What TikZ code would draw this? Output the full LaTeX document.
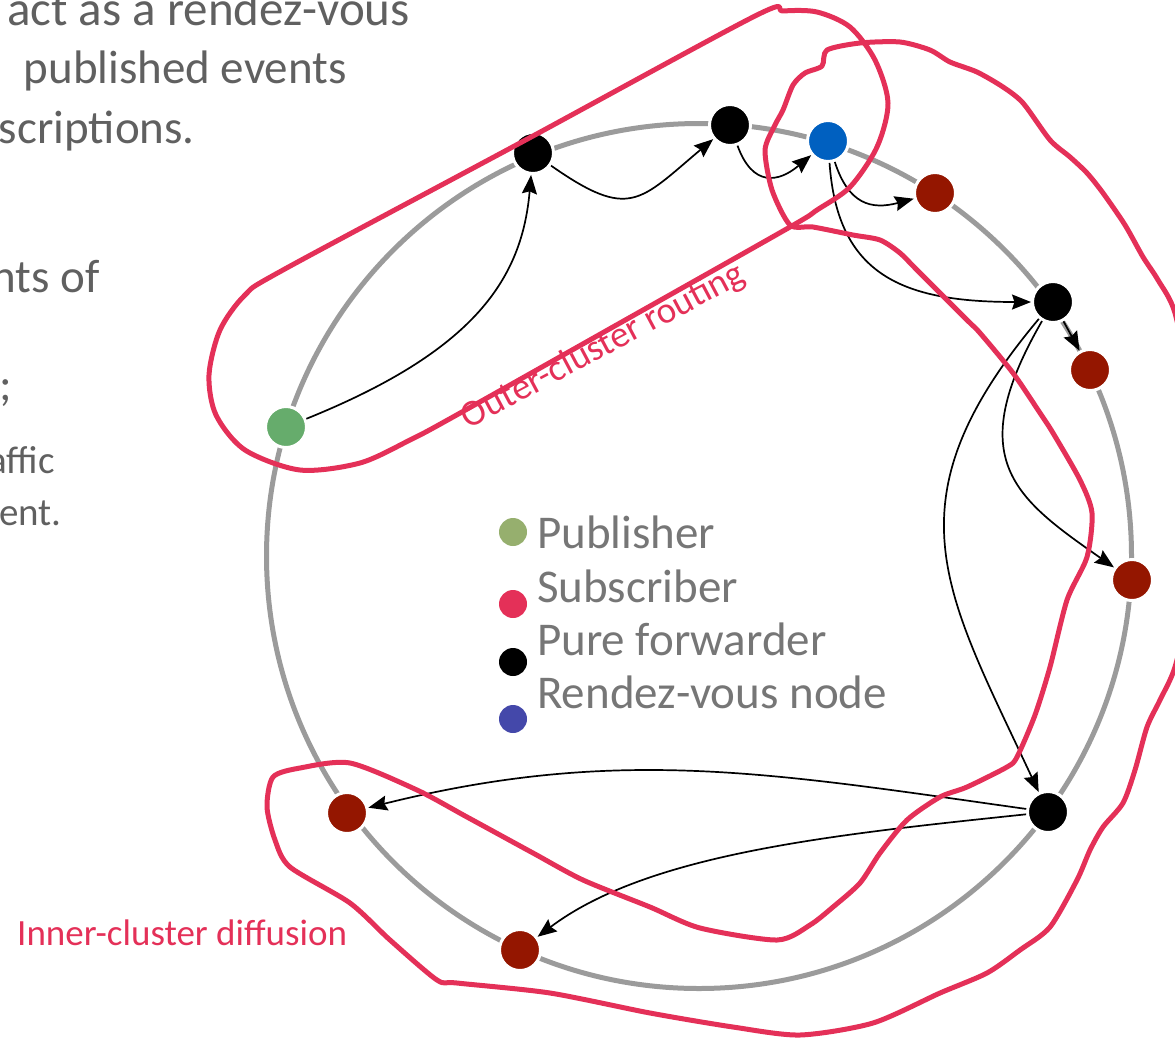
\documentclass[tikz,border=0pt]{standalone}
\usepackage{fontspec}
\setmainfont{Carlito}
\usetikzlibrary{arrows.meta}
\definecolor{handred}{RGB}{228,48,88}
\definecolor{subred}{RGB}{148,22,0}
\definecolor{rdvblue}{RGB}{0,96,192}
\definecolor{pubgreen}{RGB}{102,172,108}
\definecolor{lgreen}{RGB}{150,175,110}
\definecolor{lred}{RGB}{228,48,88}
\definecolor{lblue}{RGB}{68,72,170}
\definecolor{ringgray}{RGB}{155,155,155}
\definecolor{slidegray}{RGB}{96,96,96}
\definecolor{legendgray}{RGB}{118,118,118}
\begin{document}
\begin{tikzpicture}[x=1pt,y=1pt,
  ringline/.style={draw=ringgray, line width=5pt},
  vtx/.style={circle, minimum size=41pt, inner sep=0pt, draw=white, line width=3pt},
  fwd/.style={vtx, fill=black},
  sub/.style={vtx, fill=subred},
  rdv/.style={vtx, fill=rdvblue},
  pub/.style={vtx, fill=pubgreen},
  edge/.style={draw=black, line width=1.7pt, -{Stealth[length=19pt,width=15pt,inset=2.5pt]}},
  handline/.style={draw=handred, line width=5pt, line join=round, line cap=round},
  slidetext/.style={inner sep=0pt, anchor=base east, text=slidegray, font=\fontsize{47}{56}\selectfont},
  slidesmall/.style={slidetext, font=\fontsize{39}{47}\selectfont},
  ldot/.style={circle, minimum size=28pt, inner sep=0pt},
  ltext/.style={inner sep=0pt, anchor=base west, text=legendgray, font=\fontsize{47}{56}\selectfont},
  hlabel/.style={inner sep=0pt, text=handred, font=\fontsize{37}{44}\selectfont}
]
\useasboundingbox (0,0) rectangle (1175,-1037);
\clip (0,0) rectangle (1175,-1037);

% slide text (cut off at the left)
\node[slidetext, font=\fontsize{49}{58}\selectfont] (t1) at (410,-25) {act as a rendez-vous};
\node[slidetext] (t2) at (347,-83) {published events};
\node[slidetext] (t3) at (195,-143) {scriptions.};
\node[slidetext] (t4) at (100,-292) {nts of};
\node[slidetext] (t5) at (12,-400) {;};
\node[slidesmall] (t6) at (55,-473) {affic};
\node[slidesmall] (t7) at (62,-525) {ent.};

% ring
\coordinate (C) at (699,-556);
\draw[ringline] (C) circle[radius=432.5];

% nodes
\node[pub] (G)  at (286,-427) {};
\node[fwd] (F1) at (533,-153) {};
\node[fwd] (F2) at (730,-125) {};
\node[rdv] (R)  at (828,-141) {};
\node[sub] (S1) at (935,-193) {};
\node[fwd] (F3) at (1053,-302) {};
\node[sub] (S2) at (1090,-370) {};
\node[sub] (S3) at (1132,-580) {};
\node[fwd] (F4) at (1048,-812) {};
\node[sub] (S4) at (347,-813) {};
\node[sub] (S5) at (520,-950) {};

% edges
\draw[edge] (G) to[out=22,in=-95,out looseness=1.4,in looseness=0.8] (F1);
\draw[edge] (F1) to[out=-35,in=-140,looseness=1.5] (F2);
\draw[edge] (F2) to[out=-70,in=-140,looseness=1.5] (R);
\draw[edge] (R) to[out=-72,in=-165,looseness=1.3] (S1);
\draw[edge] (R) .. controls +(-86:135) and +(180:150) .. (F3);
\draw[edge] (F3) -- (S2);
\draw[edge] (F3) to[out=-120,in=145,out looseness=1.6,in looseness=1.2] (S3);
\draw[edge] (F3) to[out=-130,in=115,out looseness=1.3,in looseness=1.2] (F4);
\draw[edge] (F4) to[out=172,in=14] (S4);
\draw[edge] (F4) to[out=-174,in=37,in looseness=0.7] (S5);

% legend
\node[ldot, fill=lgreen] (d1) at (513,-532) {};
\node[ldot, fill=lred]   (d2) at (513,-604) {};
\node[ldot, fill=black]  (d3) at (513,-662) {};
\node[ldot, fill=lblue]  (d4) at (513,-719) {};
\node[ltext] (l1) at (537,-548) {Publisher};
\node[ltext] (l2) at (537,-602) {Subscriber};
\node[ltext] (l3) at (537,-655) {Pure forwarder};
\node[ltext] (l4) at (537,-708) {Rendez-vous node};

% hand-drawn outlines
\draw[handline] plot[smooth cycle, tension=0.5] coordinates {
 (790,-227) (620,-323) (453,-417) (410,-440) (360,-463) (300,-470) (245,-450)
 (216,-415) (209,-375) (220,-330) (245,-295) (283,-270) (520,-143) (755,-16)
 (783,-11) (817,-12) (850,-27) (875,-60) (888,-103) (877,-147) (850,-187) (817,-210)};

\draw[handline] plot[smooth cycle, tension=0.45] coordinates {
 (790,-225) (772,-190) (765,-150) (775,-125) (783,-110) (793,-85) (805,-73)
 (822,-66) (827,-50) (860,-43) (900,-42) (930,-50) (950,-62) (977,-72)
 (1003,-87) (1023,-103) (1050,-140) (1070,-157) (1087,-173) (1103,-193)
 (1125,-225) (1143,-257) (1158,-280) (1175,-313) (1192,-400) (1198,-500)
 (1190,-600) (1175,-667) (1160,-700) (1147,-727) (1135,-770) (1123,-803)
 (1103,-827) (1090,-850) (1077,-880) (1050,-927) (1020,-950) (987,-973)
 (940,-993) (873,-1023) (800,-1035) (733,-1027) (650,-1013) (550,-993)
 (457,-983) (437,-980) (390,-940) (350,-903) (290,-867) (275,-840)
 (267,-807) (273,-777) (300,-768) (350,-763) (417,-790) (467,-817)
 (533,-853) (583,-880) (650,-907) (700,-928) (777,-940) (810,-925)
 (833,-907) (860,-883) (880,-853) (907,-820) (940,-797) (967,-787)
 (1007,-767) (1017,-757) (1035,-715) (1050,-667) (1067,-600) (1087,-557)
 (1092,-513) (1080,-480) (1053,-433) (1040,-413) (1013,-373) (980,-333)
 (967,-320) (917,-270) (900,-253) (880,-240) (853,-235) (813,-227)};

% labels
\node[hlabel, anchor=base, rotate=28] (outer) at (608,-355) {Outer-cluster routing};
\node[hlabel, anchor=base west] (inner) at (17,-945) {Inner-cluster diffusion};
\end{tikzpicture}
\end{document}
